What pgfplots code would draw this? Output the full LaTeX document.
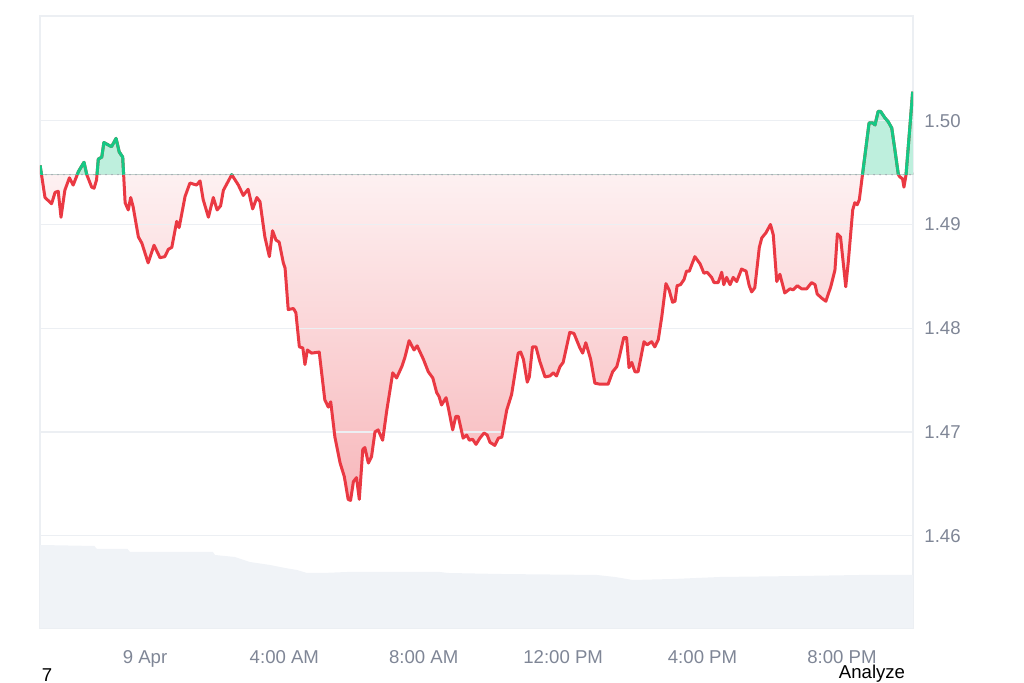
\documentclass[border=0pt]{standalone}
\usepackage{fontspec}
\setmainfont{Liberation Sans}
\usepackage{pgfplots}
\usepackage{pgfplotstable}
\pgfplotsset{compat=1.18}
\usepgfplotslibrary{fillbetween}
\definecolor{cmcred}{HTML}{EA3943}
\definecolor{cmcgreen}{HTML}{16C784}
\definecolor{ticktext}{HTML}{7F8696}
\definecolor{gridc}{HTML}{ECEFF3}
\definecolor{volc}{HTML}{F0F3F7}
\definecolor{basec}{HTML}{9AA1AD}

\pgfplotstableread{
h v
-3.01 1.4957
-2.87 1.4926
-2.68 1.4920
-2.58 1.4931
-2.49 1.4932
-2.41 1.4907
-2.30 1.4933
-2.17 1.4945
-2.06 1.4938
-1.91 1.4951
-1.75 1.4960
-1.67 1.4948
-1.53 1.4936
-1.46 1.4935
-1.39 1.4943
-1.34 1.4963
-1.24 1.4965
-1.18 1.4979
-0.96 1.4975
-0.83 1.4983
-0.74 1.4970
-0.64 1.4965
-0.57 1.4921
-0.48 1.4914
-0.41 1.4926
-0.34 1.4917
-0.19 1.4888
-0.09 1.4882
0.09 1.4863
0.26 1.4880
0.43 1.4868
0.57 1.4869
0.67 1.4876
0.77 1.4878
0.91 1.4903
0.98 1.4897
1.15 1.4927
1.29 1.4940
1.48 1.4938
1.58 1.4942
1.67 1.4924
1.82 1.4907
1.96 1.4926
2.07 1.4914
2.17 1.4918
2.25 1.4933
2.49 1.4948
2.68 1.4938
2.82 1.4928
2.96 1.4934
3.09 1.4915
3.21 1.4926
3.30 1.4922
3.44 1.4888
3.57 1.4869
3.66 1.4894
3.76 1.4885
3.85 1.4883
3.97 1.4863
4.02 1.4858
4.11 1.4818
4.26 1.4819
4.33 1.4815
4.43 1.4782
4.53 1.4781
4.59 1.4765
4.66 1.4779
4.78 1.4776
5.00 1.4777
5.16 1.4731
5.26 1.4724
5.33 1.4729
5.45 1.4695
5.60 1.4670
5.72 1.4657
5.83 1.4635
5.90 1.4634
5.98 1.4652
6.07 1.4656
6.15 1.4635
6.25 1.4683
6.31 1.4685
6.41 1.4670
6.50 1.4676
6.60 1.4700
6.69 1.4702
6.82 1.4692
6.94 1.4721
7.11 1.4757
7.22 1.4752
7.37 1.4763
7.46 1.4772
7.58 1.4788
7.72 1.4779
7.81 1.4783
7.99 1.4770
8.13 1.4758
8.26 1.4752
8.37 1.4738
8.44 1.4734
8.51 1.4726
8.64 1.4733
8.70 1.4724
8.83 1.4702
8.92 1.4715
8.99 1.4715
9.13 1.4694
9.23 1.4697
9.31 1.4692
9.40 1.4693
9.50 1.4688
9.61 1.4694
9.73 1.4699
9.82 1.4697
9.90 1.4690
10.04 1.4687
10.14 1.4694
10.24 1.4695
10.38 1.4721
10.52 1.4736
10.62 1.4757
10.71 1.4776
10.78 1.4777
10.86 1.4770
10.97 1.4748
11.03 1.4753
11.12 1.4782
11.22 1.4782
11.33 1.4768
11.48 1.4753
11.62 1.4754
11.72 1.4757
11.81 1.4754
11.91 1.4763
12.00 1.4767
12.19 1.4796
12.31 1.4795
12.48 1.4781
12.56 1.4776
12.65 1.4786
12.79 1.4770
12.91 1.4747
13.06 1.4746
13.29 1.4746
13.42 1.4758
13.54 1.4763
13.61 1.4772
13.74 1.4791
13.82 1.4791
13.89 1.4762
13.97 1.4767
14.06 1.4758
14.15 1.4758
14.32 1.4787
14.41 1.4784
14.54 1.4787
14.63 1.4782
14.73 1.4789
14.83 1.4811
14.95 1.4843
15.04 1.4837
15.14 1.4825
15.21 1.4826
15.27 1.4841
15.37 1.4842
15.47 1.4847
15.54 1.4855
15.62 1.4855
15.78 1.4869
15.93 1.4862
16.04 1.4853
16.13 1.4854
16.26 1.4849
16.33 1.4844
16.45 1.4844
16.55 1.4854
16.61 1.4842
16.69 1.4849
16.79 1.4842
16.88 1.4849
16.98 1.4845
17.12 1.4857
17.25 1.4855
17.34 1.4841
17.41 1.4835
17.50 1.4839
17.63 1.4878
17.70 1.4887
17.82 1.4892
17.95 1.4900
18.03 1.4890
18.13 1.4845
18.22 1.4852
18.36 1.4834
18.51 1.4838
18.60 1.4837
18.72 1.4841
18.84 1.4838
18.99 1.4838
19.13 1.4844
19.23 1.4842
19.29 1.4833
19.42 1.4829
19.54 1.4826
19.68 1.4840
19.80 1.4856
19.87 1.4891
19.96 1.4888
20.11 1.4840
20.18 1.4863
20.31 1.4914
20.37 1.4921
20.44 1.4919
20.50 1.4924
20.59 1.4948
20.78 1.4998
20.88 1.4998
20.95 1.4996
21.04 1.5009
21.11 1.5009
21.17 1.5006
21.23 1.5003
21.33 1.4999
21.43 1.4993
21.52 1.4972
21.62 1.4948
21.66 1.4946
21.74 1.4944
21.78 1.4936
21.84 1.4948
21.95 1.4994
22.03 1.5028
}\pricedata

\pgfplotstableread{
h vol
-3.01 83
-1.45 82
-1.38 79
-0.50 79
-0.43 76
1.95 76
2.01 73
2.58 71
3.01 66
3.59 63
4.02 60
4.36 58
4.65 55
5.10 55
5.80 56
8.46 56
8.70 55
10.19 54
12.97 53
13.49 51
14.00 48
15.15 49
16.50 51
18.79 52
20.52 53
22.04 53
}\voldata

\pgfplotsset{
  basegeom/.style={scale only axis, width=436.5pt, height=306pt,
    xmin=-3.013, xmax=22.04, at={(20pt,27.5pt)}, anchor=south west},
  pricegeom/.style={basegeom, ymin=1.4511, ymax=1.5101},
}

\begin{document}
\begin{tikzpicture}
% volume
\begin{axis}[basegeom, ymin=0, ymax=612, hide axis]
\addplot[fill=volc, draw=none] table[x=h,y=vol]{\voldata} \closedcycle;
\end{axis}
% frame, tick labels and the red area
\begin{axis}[pricegeom,
  axis line style={draw=gridc, line width=0.6pt},
  xtick={0,4,8,12,16,20},
  xticklabels={9 Apr,4:00 AM,8:00 AM,12:00 PM,4:00 PM,8:00 PM},
  ytick={1.46,1.47,1.48,1.49,1.50},
  yticklabel pos=right,
  major tick length=0pt,
  /pgf/number format/assume math mode=true,
  yticklabel style={/pgf/number format/.cd, fixed, fixed zerofill, precision=2, /tikz/.cd,
     anchor=west, inner sep=0pt, xshift=5.5pt},
  xticklabel style={anchor=north, inner sep=0pt, yshift=-11pt},
  ticklabel style={font=\fontsize{9.3}{11}\selectfont, text=ticktext},
]
\addplot[name path=price, draw=none] table[x=h,y=v]{\pricedata};
\addplot[name path=base, draw=none] coordinates {(-3.013,1.4948) (22.04,1.4948)};
\addplot[top color=white, bottom color=cmcred!36!white, draw=none] fill between[of=price and base];
\coordinate (cbl) at (axis cs:-3.013,1.4948);
\end{axis}
% grid and red line
\begin{axis}[pricegeom,
  axis line style={draw=none},
  ymajorgrids, grid style={draw=gridc, line width=0.6pt},
  xtick=\empty, ytick={1.46,1.47,1.48,1.49,1.50}, yticklabels={},
  major tick length=0pt]
\addplot[cmcred, line width=1.5pt, line join=round] table[x=h,y=v]{\pricedata};
\end{axis}
% green part above the baseline: an axis whose lower limit is the baseline
\begin{axis}[scale only axis, width=436.5pt, height=79.3525pt,
  xmin=-3.013, xmax=22.04, ymin=1.4948, ymax=1.5101,
  at={(cbl)}, anchor=south west, hide axis]
\addplot[name path=price2, draw=none] table[x=h,y=v]{\pricedata};
\addplot[name path=base2, draw=none] coordinates {(-3.013,1.4948) (22.04,1.4948)};
\addplot[fill=cmcgreen!28!white, draw=none] fill between[of=price2 and base2];
\addplot[cmcgreen, line width=1.5pt, line join=round] table[x=h,y=v]{\pricedata};
\end{axis}
% dotted baseline
\begin{axis}[pricegeom, hide axis]
\addplot[basec, line width=0.8pt, line cap=round, dash pattern=on 0pt off 3pt] coordinates {(-3.013,1.4948) (22.04,1.4948)};
\end{axis}
\node[anchor=base, inner sep=0pt, font=\fontsize{9.3}{11}\selectfont] at (436pt,2pt) {Analyze};
\node[anchor=base, inner sep=0pt, font=\fontsize{9.3}{11}\selectfont] at (23.5pt,0.6pt) {7};
\pgfresetboundingbox
\path (0,0) rectangle (512pt,341.5pt);
\end{tikzpicture}
\end{document}
